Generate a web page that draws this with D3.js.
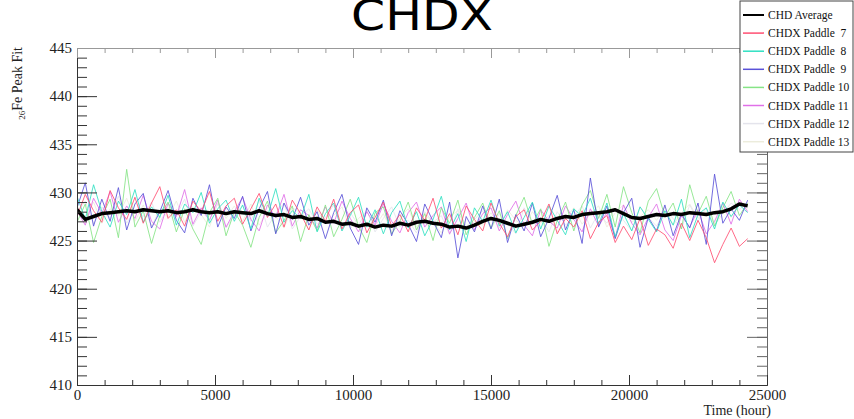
<!DOCTYPE html>
<html>
<head>
<meta charset="utf-8">
<script src="https://cdn.jsdelivr.net/npm/d3@7"></script>
<style>
  body { margin: 0; background: #fff; }
  svg { display: block; }
  .tick text { font-family: "Liberation Serif", "Times New Roman", serif; }
</style>
</head>
<body>
<div id="chart"></div>
<script>
// sampling time of every point (hour)
var hours = d3.range(0, 24301, 300);

// tick values
var xMajor = [0, 5000, 10000, 15000, 20000, 25000];
var xMinor = d3.range(0, 25001, 1000);
var yMajor = [410, 415, 420, 425, 430, 435, 440, 445];
var yMinor = d3.range(410, 445.5, 1);

var avgVals = [
  428.2, 427.2, 427.5, 427.8, 427.9, 428.0, 428.1, 428.0, 428.2, 428.1,
  428.0, 428.1, 427.9, 428.0, 428.2, 428.0, 427.9, 428.0, 427.8, 428.0,
  427.9, 427.8, 428.1, 427.8, 427.6, 427.7, 427.4, 427.5, 427.2, 427.3,
  426.9, 427.0, 426.7, 426.8, 426.5, 426.7, 426.4, 426.6, 426.5, 426.8,
  426.6, 426.9, 427.0, 426.8, 426.7, 426.4, 426.5, 426.3, 426.6, 427.0,
  427.3, 427.1, 426.8, 426.5, 426.7, 426.9, 427.2, 427.0, 427.3, 427.5,
  427.4, 427.7, 427.8, 427.9, 428.0, 428.2, 427.8, 427.4, 427.3, 427.5,
  427.7, 427.6, 427.8, 427.7, 427.9, 427.8, 427.7, 427.9, 428.0, 428.3,
  428.8, 428.6
];
var paddle7 = [
  427.5, 429.8, 428.1, 426.9, 430.2, 428.4, 427.2, 429.5, 426.8, 428.9,
  430.6, 427.3, 428.2, 426.5, 429.1, 428.0, 430.1, 427.0, 428.6, 429.4,
  426.7, 428.3, 429.9, 427.4, 428.8, 426.4, 429.2, 427.8, 426.1, 428.5,
  427.0, 429.3, 426.2, 427.9, 428.7, 425.8, 427.4, 429.0, 426.5, 427.7,
  425.9, 428.4, 427.1, 429.4, 426.3, 427.8, 425.6, 428.6, 427.2, 426.0,
  428.9, 426.8, 425.4, 427.5, 428.2, 426.1, 427.0, 428.8, 425.7, 427.3,
  426.4, 428.1, 425.2, 426.9, 427.6, 424.8, 426.5, 425.1, 427.3, 424.5,
  426.2, 425.6, 424.2, 426.8, 425.0, 427.1, 425.3, 422.7, 424.6, 426.3,
  424.4, 425.2
];
var paddle8 = [
  429.6, 427.2, 430.8, 428.0, 426.4, 429.1, 427.7, 430.3, 426.9, 428.5,
  427.4, 429.7, 426.6, 428.8, 427.9, 430.0, 426.8, 428.3, 429.2, 427.0,
  428.7, 426.2, 429.4, 427.5, 430.4, 426.9, 428.1, 427.3, 429.8, 425.9,
  427.8, 428.9, 426.0, 427.6, 429.5, 426.4, 428.2, 425.7, 427.9, 429.1,
  426.3, 428.0, 425.5, 427.2, 429.6, 426.1, 427.8, 424.9, 428.4, 427.0,
  429.2, 426.5, 428.0, 425.8, 427.4, 429.0, 426.2, 428.6, 427.1, 425.6,
  428.3, 427.5, 429.4, 426.7, 428.9, 425.4, 427.8, 426.0, 428.5, 427.2,
  425.9, 428.1, 426.6, 429.3, 425.3, 427.7, 428.4, 426.2, 429.0, 427.5,
  428.7, 427.9
];
var paddle9 = [
  428.4, 431.0, 426.5, 429.3, 427.0, 430.5, 426.1, 428.8, 429.9, 426.3,
  428.0, 430.2, 427.1, 425.8, 429.4, 427.6, 430.8, 426.4, 428.5, 427.3,
  429.6, 426.0, 428.3, 430.1, 425.7, 428.9, 427.2, 429.5, 426.6, 428.0,
  425.2, 427.9, 429.8, 426.3, 424.6, 428.4, 426.9, 429.2, 425.5, 428.1,
  426.7, 424.9, 428.8, 427.0, 425.3, 429.0, 423.2, 427.5, 425.9, 428.6,
  426.2, 429.3, 424.8, 427.7, 426.0, 428.9, 425.4, 427.3, 429.7, 426.1,
  428.2, 424.7, 431.5, 426.4, 428.6, 425.2, 427.9, 429.4, 424.3, 427.4,
  426.0, 428.7, 425.5, 427.8, 426.3, 428.9, 424.6, 431.9, 426.8, 428.3,
  427.1, 429.2
];
var paddle10 = [
  426.9, 428.8, 424.8, 427.5, 429.3, 425.3, 432.4, 426.4, 428.1, 424.7,
  427.6, 429.0, 425.9, 428.3, 426.2, 424.6, 427.9, 429.4, 425.5, 428.0,
  426.6, 424.3, 427.4, 429.1, 425.8, 427.1, 428.6, 424.9, 427.7, 426.0,
  428.7, 425.4, 427.2, 429.3, 426.5, 424.8, 427.9, 428.5, 425.7, 427.0,
  429.0, 426.1, 427.8, 425.0, 428.4, 426.8, 429.2, 425.6, 427.4, 428.9,
  426.3, 428.1, 425.2, 427.6, 429.5, 426.7, 428.3, 424.4, 427.1, 429.0,
  426.0, 428.7, 430.2, 427.3, 429.8, 426.4, 430.6, 427.9, 425.8, 429.1,
  430.4, 427.5, 428.9, 426.2, 430.8, 427.8, 429.6, 426.5, 428.4, 430.1,
  427.6, 428.9
];
var paddle11 = [
  428.1, 426.6, 429.4, 427.8, 430.1, 426.9, 428.6, 427.3, 429.7, 427.0,
  426.2, 428.9, 427.5, 430.3, 426.7, 428.4, 427.1, 429.2, 426.4, 428.0,
  429.5, 427.2, 426.0, 428.7, 427.4, 429.8, 426.5, 428.2, 427.6, 426.3,
  428.5, 426.8, 429.1, 427.3, 425.9, 428.0, 426.6, 428.8, 427.0, 425.8,
  427.9, 429.0, 426.4, 427.6, 428.5, 425.7, 427.3, 428.9, 426.1, 427.8,
  428.4, 426.0, 427.7, 429.1, 426.6, 425.5, 428.2, 427.0, 426.3, 428.6,
  427.2, 425.9, 428.3, 426.5, 427.9, 425.3, 428.7, 426.8, 425.6, 427.4,
  428.8, 426.1, 425.0, 427.6, 426.4, 428.2, 425.7, 427.0, 428.9, 426.7,
  429.3, 428.0
];
var paddle12 = [
  427.9, 429.1, 426.7, 428.5, 427.3, 429.6, 426.8, 428.2, 427.5, 429.0,
  426.9, 428.4, 427.6, 429.3, 426.5, 428.0, 427.2, 428.8, 426.3, 427.7,
  428.6, 427.0, 429.2, 426.4, 427.8, 428.9, 426.2, 427.5, 428.3, 426.7,
  427.4, 428.7, 426.0, 427.9, 426.6, 428.2, 425.9, 427.3, 428.5, 426.4,
  427.1, 425.8, 428.0, 426.9, 427.6, 425.6, 428.3, 426.5, 427.2, 428.1,
  426.2, 427.8, 426.8, 425.7, 428.4, 426.9, 427.4, 425.9, 428.0, 426.6,
  427.5, 428.6, 426.3, 427.9, 426.8, 428.3, 427.1, 426.0, 428.5, 427.4,
  426.5, 428.1, 427.3, 426.2, 428.7, 427.0, 428.4, 426.6, 427.8, 428.9,
  428.2, 429.0
];
var paddle13 = [
  428.6, 427.1, 429.0, 426.8, 428.3, 427.6, 429.4, 427.0, 428.7, 426.5,
  428.2, 427.4, 429.1, 426.9, 428.5, 427.7, 426.4, 428.9, 427.3, 428.6,
  427.0, 428.8, 426.6, 428.1, 427.5, 426.3, 428.4, 427.9, 426.1, 428.2,
  426.8, 427.6, 428.5, 426.2, 427.3, 428.0, 426.5, 427.8, 426.0, 427.4,
  428.3, 426.4, 427.7, 426.9, 425.8, 427.5, 428.1, 426.2, 427.0, 426.6,
  427.9, 426.3, 428.2, 427.1, 426.5, 428.0, 426.8, 427.6, 425.9, 427.3,
  428.4, 426.7, 427.8, 428.6, 426.4, 427.9, 428.7, 426.9, 427.5, 428.2,
  427.1, 428.5, 426.6, 427.9, 428.8, 427.3, 428.0, 426.8, 428.6, 427.4,
  428.9, 428.3
];

var seriesNames = ["CHD Average", "CHDX Paddle  7", "CHDX Paddle  8", "CHDX Paddle  9",
                   "CHDX Paddle 10", "CHDX Paddle 11", "CHDX Paddle 12", "CHDX Paddle 13"];
var seriesVals = [avgVals, paddle7, paddle8, paddle9, paddle10, paddle11, paddle12, paddle13];
var seriesColors = ["#000000", "#ff4f72", "#2fe0c2", "#5a52d8", "#86e486", "#e070e8", "#e4e4ec", "#ececdc"];

var W = 854, H = 419;
var margin = {top: 48, right: 87, bottom: 34, left: 77},
    width = W - margin.left - margin.right,
    height = H - margin.top - margin.bottom;

var svg = d3.select("#chart").append("svg")
    .attr("width", W)
    .attr("height", H);

var x = d3.scaleLinear().domain([0, 25000]).range([0, width]);
var y = d3.scaleLinear().domain([410, 445]).range([height, 0]);

var g = svg.append("g")
    .attr("transform", "translate(" + margin.left + "," + margin.top + ")");

g.append("clipPath").attr("id", "clip")
    .append("rect").attr("width", width).attr("height", height);

// lines, paddles first then the average on top
var line = d3.line()
    .x(function(d, i){ return x(hours[i]); })
    .y(function(d){ return y(d); });

var order = [7, 6, 5, 4, 3, 2, 1, 0];
g.append("g").attr("clip-path", "url(#clip)")
    .selectAll("path")
    .data(order).enter()
    .append("path")
    .attr("fill", "none")
    .attr("stroke", function(k){ return seriesColors[k]; })
    .attr("stroke-width", function(k){ return k === 0 ? 3.5 : 1; })
    .attr("stroke-opacity", function(k){ return k === 0 ? 1 : 0.85; })
    .attr("stroke-linejoin", "round")
    .attr("d", function(k){ return line(seriesVals[k]); });

// axes with inward ticks on all four sides
function styleAxis(sel, col) {
    sel.selectAll("path, line").attr("stroke", col);
}
g.append("g").call(d3.axisRight(y).tickValues(yMinor).tickSize(10).tickSizeOuter(0).tickFormat(""))
    .call(styleAxis, "#333");
g.append("g").call(d3.axisRight(y).tickValues(yMajor).tickSize(20).tickSizeOuter(0).tickFormat(""))
    .call(styleAxis, "#333");
g.append("g").attr("transform", "translate(" + width + ",0)")
    .call(d3.axisLeft(y).tickValues(yMinor).tickSize(10).tickSizeOuter(0).tickFormat(""))
    .call(styleAxis, "#666");
g.append("g").attr("transform", "translate(" + width + ",0)")
    .call(d3.axisLeft(y).tickValues(yMajor).tickSize(20).tickSizeOuter(0).tickFormat(""))
    .call(styleAxis, "#666");
g.append("g").attr("transform", "translate(0," + height + ")")
    .call(d3.axisTop(x).tickValues(xMinor).tickSize(5).tickSizeOuter(0).tickFormat(""))
    .call(styleAxis, "#333");
g.append("g").attr("transform", "translate(0," + height + ")")
    .call(d3.axisTop(x).tickValues(xMajor).tickSize(10).tickSizeOuter(0).tickFormat(""))
    .call(styleAxis, "#333");
g.append("g")
    .call(d3.axisBottom(x).tickValues(xMinor).tickSize(5).tickSizeOuter(0).tickFormat(""))
    .call(styleAxis, "#999");
g.append("g")
    .call(d3.axisBottom(x).tickValues(xMajor).tickSize(10).tickSizeOuter(0).tickFormat(""))
    .call(styleAxis, "#999");

// tick labels
var yLab = g.append("g")
    .call(d3.axisLeft(y).tickValues(yMajor).tickSize(0).tickPadding(5).tickFormat(d3.format("d")));
yLab.select(".domain").remove();
yLab.selectAll("text").attr("font-size", 15).attr("fill", "#222");

var xLab = g.append("g").attr("transform", "translate(0," + height + ")")
    .call(d3.axisBottom(x).tickValues(xMajor).tickSize(0).tickPadding(4).tickFormat(d3.format("d")));
xLab.select(".domain").remove();
xLab.selectAll("text").attr("font-size", 15).attr("fill", "#222");

// axis titles
svg.append("text")
    .attr("x", margin.left + width + 4)
    .attr("y", 415)
    .attr("text-anchor", "end")
    .attr("font-family", "Liberation Serif, serif")
    .attr("font-size", 14)
    .attr("fill", "#222")
    .text("Time (hour)");

var yTitle = svg.append("text")
    .attr("transform", "translate(22,47) rotate(-90)")
    .attr("text-anchor", "end")
    .attr("font-family", "Liberation Serif, serif")
    .attr("font-size", 14)
    .attr("fill", "#222");
yTitle.append("tspan").attr("font-size", 9).attr("dy", 3).text("26");
yTitle.append("tspan").attr("dy", -3).text("Fe Peak Fit");

// title
svg.append("text")
    .attr("x", 422)
    .attr("y", 30)
    .attr("text-anchor", "middle")
    .attr("font-family", "DejaVu Sans, sans-serif")
    .attr("font-size", 42)
    .attr("textLength", 142)
    .attr("lengthAdjust", "spacingAndGlyphs")
    .attr("fill", "#000")
    .text("CHDX");

// legend
var leg = svg.append("g").attr("transform", "translate(740,1)");
leg.append("rect")
    .attr("width", 113).attr("height", 151)
    .attr("fill", "#fff").attr("stroke", "#444").attr("stroke-width", 1);
var item = leg.selectAll("g.item")
    .data(seriesNames).enter()
    .append("g").attr("class", "item")
    .attr("transform", function(d, i){ return "translate(0," + (14 + i * 18.1) + ")"; });
item.append("line")
    .attr("x1", 3).attr("x2", 24)
    .attr("stroke", function(d, i){ return seriesColors[i]; })
    .attr("stroke-width", function(d, i){ return i === 0 ? 2 : 1.5; });
item.append("text")
    .attr("x", 28).attr("dy", "0.35em")
    .attr("font-family", "Liberation Serif, serif")
    .attr("font-size", 11.5)
    .attr("fill", "#111")
    .attr("xml:space", "preserve")
    .style("white-space", "pre")
    .text(function(d){ return d; });
</script>
</body>
</html>
